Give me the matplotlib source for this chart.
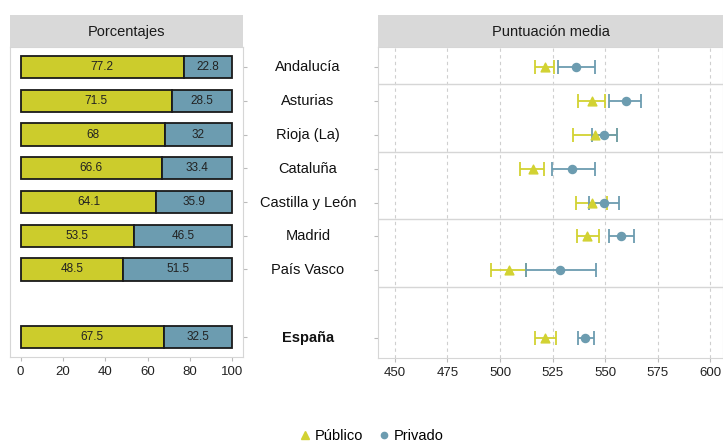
import matplotlib
matplotlib.use("Agg")
import matplotlib.pyplot as plt
import numpy as np

plt.rcParams["font.family"] = ["Liberation Sans", "DejaVu Sans"]

# data
regiones = ["Andalucía", "Asturias", "Rioja (La)", "Cataluña", "Castilla y León",
            "Madrid", "País Vasco", "España"]
pos = [0, 1, 2, 3, 4, 5, 6, 8]

pct_publico = [77.2, 71.5, 68, 66.6, 64.1, 53.5, 48.5, 67.5]
pct_privado = [22.8, 28.5, 32, 33.4, 35.9, 46.5, 51.5, 32.5]

media_publico = [521.5, 543.5, 545.0, 515.5, 543.5, 541.5, 504.5, 521.5]
lo_publico = [516.5, 537.0, 534.5, 509.5, 536.0, 536.5, 495.5, 516.5]
hi_publico = [525.5, 550.0, 555.5, 521.0, 551.0, 547.0, 512.5, 526.5]

media_privado = [536.0, 560.0, 549.5, 534.0, 549.5, 557.5, 528.5, 540.5]
lo_privado = [527.5, 552.0, 543.5, 524.5, 542.5, 552.0, 512.5, 537.0]
hi_privado = [545.0, 567.0, 555.5, 545.0, 556.5, 563.5, 545.5, 544.5]

x_ticks_pct = [0, 20, 40, 60, 80, 100]
x_ticks_pun = [450, 475, 500, 525, 550, 575, 600]

C_PUB = "#CCCC2C"
C_PRI = "#6C9CB0"
C_PUB_PT = "#D2D232"
GRID = "#D6D6D6"
STRIP = "#D9D9D9"

W, H = 723, 443
fig = plt.figure(figsize=(W / 100, H / 100), dpi=100)


def px_axes(x0, y0, x1, y1):
    return fig.add_axes([x0 / W, 1 - y1 / H, (x1 - x0) / W, (y1 - y0) / H])


def strip(ax, title):
    bb = ax.get_position()
    sh = 32 / H
    s = fig.add_axes([bb.x0, bb.y1, bb.width, sh])
    s.set_facecolor(STRIP)
    s.set_xticks([]); s.set_yticks([])
    for sp in s.spines.values():
        sp.set_visible(False)
    s.text(0.5, 0.48, title, ha="center", va="center", fontsize=10.5,
           color="#1a1a1a", transform=s.transAxes)


# left panel: percentages
ax1 = px_axes(10, 47, 243, 357)
ax1.barh(pos, pct_publico, height=0.66, color=C_PUB, edgecolor="#1a1a1a", linewidth=1.3)
ax1.barh(pos, pct_privado, left=pct_publico, height=0.66, color=C_PRI,
         edgecolor="#1a1a1a", linewidth=1.3)
for p, a, b in zip(pos, pct_publico, pct_privado):
    ax1.text(a / 2, p, f"{a:g}", ha="center", va="center", fontsize=8.5, color="#222222")
    ax1.text(a + b / 2, p, f"{b:g}", ha="center", va="center", fontsize=8.5, color="#222222")
ax1.set_xlim(-5, 105)
ax1.set_ylim(8.6, -0.6)
ax1.set_xticks(x_ticks_pct)
ax1.set_yticks(pos)
ax1.set_yticklabels([])
ax1.yaxis.tick_right()
ax1.tick_params(axis="both", colors="#BBBBBB", labelcolor="#222222", labelsize=9.5,
                length=3, width=0.8)
for sp in ax1.spines.values():
    sp.set_color(GRID)
strip(ax1, "Porcentajes")

# right panel: mean scores with intervals
ax2 = px_axes(378, 47, 723, 358)
for x in x_ticks_pun:
    ax2.axvline(x, color="#CFCFCF", linestyle=(0, (3, 3)), linewidth=0.8, zorder=0)
for y in [0.5, 2.5, 4.5, 6.5]:
    ax2.axhline(y, color=GRID, linewidth=1.0, zorder=0)
mp, lp, hp = map(np.array, (media_publico, lo_publico, hi_publico))
mv, lv, hv = map(np.array, (media_privado, lo_privado, hi_privado))
ax2.errorbar(mp, pos, xerr=[mp - lp, hp - mp], fmt="none", ecolor=C_PUB_PT,
             elinewidth=1.3, capsize=5, capthick=1.3)
ax2.errorbar(mv, pos, xerr=[mv - lv, hv - mv], fmt="none", ecolor=C_PRI,
             elinewidth=1.3, capsize=5, capthick=1.3)
ax2.scatter(mp, pos, marker="^", s=40, color=C_PUB_PT, zorder=3)
ax2.scatter(mv, pos, marker="o", s=34, color=C_PRI, zorder=3)
ax2.set_xlim(442, 606)
ax2.set_ylim(8.6, -0.6)
ax2.set_xticks(x_ticks_pun)
ax2.set_yticks(pos)
ax2.set_yticklabels([])
ax2.tick_params(axis="both", colors="#BBBBBB", labelcolor="#222222", labelsize=9.5,
                length=3, width=0.8)
for sp in ax2.spines.values():
    sp.set_color(GRID)
strip(ax2, "Puntuación media")

# region labels between the panels
for p, name in zip(pos, regiones):
    y = ax2.transData.transform((0, p))[1]
    fig.text(308 / W, y / fig.dpi / fig.get_figheight(), name, ha="center", va="center",
             fontsize=10.5, color="#111111",
             fontweight="bold" if name == "España" else "normal")

# legend
hp_ = plt.Line2D([], [], marker="^", color=C_PUB_PT, linestyle="none", markersize=5.5)
hv_ = plt.Line2D([], [], marker="o", color=C_PRI, linestyle="none", markersize=4.5)
fig.legend([hp_, hv_], ["Público", "Privado"], loc="center", ncol=2,
           bbox_to_anchor=(370 / W, 1 - 436 / H), frameon=False, fontsize=10.5,
           handletextpad=0.1, columnspacing=0.8, handlelength=1.2)

fig.savefig("out.png", dpi=100)
